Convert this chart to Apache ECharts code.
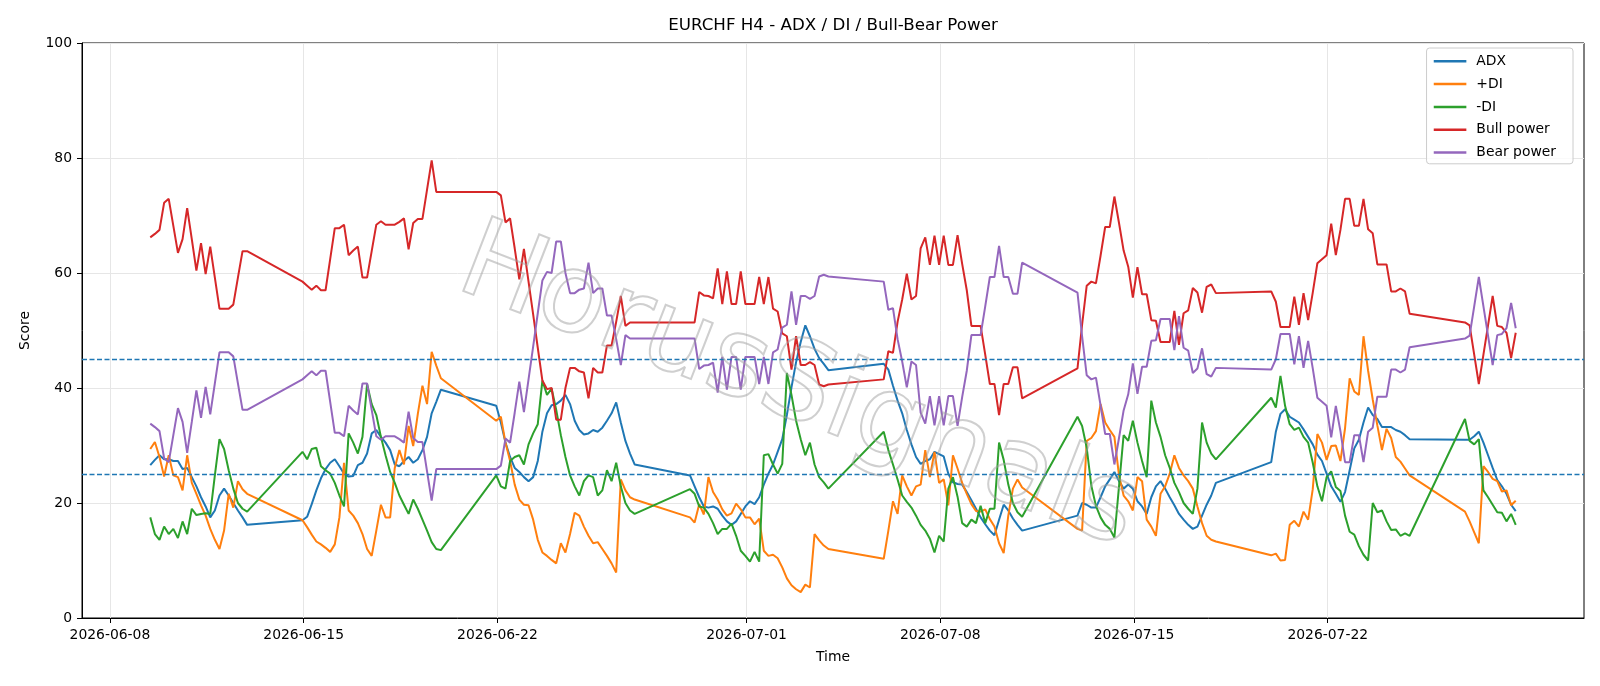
<!DOCTYPE html>
<html>
<head>
<meta charset="utf-8">
<title>EURCHF H4 - ADX / DI / Bull-Bear Power</title>
<script src="https://cdn.jsdelivr.net/npm/echarts@6/dist/echarts.min.js"></script>
<style>
  html, body { margin: 0; padding: 0; background: #fff; }
  #chart-container { width: 1600px; height: 686px; }
</style>
</head>
<body>
<div id="chart-container"></div>
<script>
// H4 sessions: first bar and number of 4h bars until the weekend gap
var sessions = [
  ['2026-06-09T11:00:00Z', 22],
  ['2026-06-14T23:00:00Z', 31],
  ['2026-06-21T23:00:00Z', 31],
  ['2026-06-28T23:00:00Z', 31],
  ['2026-07-05T23:00:00Z', 31],
  ['2026-07-12T23:00:00Z', 31],
  ['2026-07-19T23:00:00Z', 31],
  ['2026-07-26T23:00:00Z', 12]
];
var tickDates = ['2026-06-08', '2026-06-15', '2026-06-22', '2026-07-01', '2026-07-08', '2026-07-15', '2026-07-22'];
var levels = [25, 45];

var adx = [
  26.6, 27.5, 28.3, 27.6, 27.6, 27.3, 27.3, 25.9, 26.1, 24.5, 22.9, 21.0, 19.4, 17.5, 18.7, 21.3, 22.5, 21.3, 20.0, 18.7, 17.5, 16.2,
  17.0, 17.6, 19.8, 22.2, 24.3, 25.9, 27.0, 27.6, 26.4, 25.1, 24.6, 24.7, 26.6, 27.0, 28.6, 32.1, 32.7, 31.5, 30.5, 29.2, 26.7, 26.4, 27.3, 28.0, 27.0, 27.6, 29.2, 31.5, 35.6, 37.6, 39.7,
  36.9, 34.0, 30.5, 28.0, 26.1, 25.4, 24.5, 23.8, 24.5, 27.3, 32.4, 35.6, 37.0, 37.2, 37.8, 38.8, 37.2, 34.3, 32.7, 31.9, 32.1, 32.7, 32.4, 33.1, 34.3, 35.6, 37.5, 34.0, 30.8, 28.6, 26.7,
  24.8, 22.9, 21.0, 19.4, 19.2, 19.4, 19.0, 17.8, 16.8, 16.2, 16.8, 18.1, 19.4, 20.3, 19.8, 21.0, 23.2, 25.1, 26.7, 28.9, 31.1, 35.3, 40.1, 44.5, 48.0, 50.9, 49.0, 46.8, 45.2, 44.2, 43.1,
  44.2, 43.2, 40.4, 37.8, 35.6, 32.7, 30.2, 28.0, 26.8, 27.3, 27.6, 28.9, 28.5, 28.1, 25.1, 23.6, 23.3, 23.2, 21.9, 20.5, 19.0, 17.5, 16.3, 15.2, 14.4, 17.1, 19.7, 18.7, 17.3, 16.2, 15.2,
  17.8, 20.0, 19.7, 19.2, 19.2, 21.0, 22.9, 24.1, 25.4, 23.8, 22.5, 23.2, 22.5, 20.3, 19.4, 18.1, 21.0, 22.9, 23.8, 22.5, 21.0, 19.6, 18.1, 17.1, 16.2, 15.5, 15.9, 17.8, 19.7, 21.3, 23.5,
  27.1, 32.4, 35.5, 36.3, 35.0, 34.5, 34.0, 32.8, 31.5, 30.2, 28.4, 27.3, 25.1, 22.9, 21.6, 20.2, 21.9, 25.7, 29.5, 31.0, 34.0, 36.6, 35.3, 34.6, 33.2, 33.2, 33.2, 32.7, 32.4, 31.8, 31.1,
  31.0, 31.0, 31.6, 32.4, 30.5, 28.3, 26.1, 24.0, 22.9, 21.6, 19.7, 18.6
];
var plusDi = [
  29.4, 30.6, 28.0, 24.6, 28.3, 24.8, 24.5, 22.2, 28.3, 23.5, 21.6, 19.6, 17.8, 15.5, 13.6, 12.0, 15.2, 21.6, 19.2, 23.8, 22.4, 21.6,
  17.0, 15.8, 14.5, 13.3, 12.8, 12.2, 11.5, 12.8, 17.5, 27.0, 18.7, 17.8, 16.5, 14.6, 12.0, 10.8, 15.2, 19.7, 17.5, 17.5, 26.1, 29.2, 26.7, 33.4, 29.9, 35.5, 40.4, 37.2, 46.3, 43.9, 41.7,
  34.3, 35.0, 30.5, 27.3, 23.2, 20.6, 19.7, 19.6, 17.1, 13.6, 11.4, 10.8, 10.1, 9.5, 13.0, 11.4, 14.6, 18.3, 17.8, 15.9, 14.3, 13.0, 13.2, 12.0, 10.8, 9.5, 7.9, 24.1, 22.2, 21.0, 20.6,
  17.5, 16.6, 19.8, 18.0, 24.5, 21.9, 20.6, 18.9, 17.8, 18.2, 19.9, 18.9, 17.5, 17.5, 16.3, 17.3, 11.7, 10.8, 11.0, 10.4, 8.8, 6.9, 5.7, 5.0, 4.5, 5.8, 5.3, 14.6, 13.5, 12.6, 12.0,
  10.3, 15.2, 20.3, 18.1, 24.8, 22.9, 21.3, 22.9, 23.2, 29.2, 24.5, 28.9, 23.5, 24.1, 19.6, 28.3, 26.0, 23.5, 21.6, 19.8, 18.6, 18.5, 18.9, 17.2, 15.9, 13.0, 11.3, 17.8, 22.5, 24.1, 22.7,
  15.5, 15.2, 30.8, 31.3, 32.5, 37.2, 34.0, 32.7, 31.5, 24.8, 21.3, 20.3, 18.7, 24.5, 23.8, 17.1, 15.9, 14.3, 21.6, 22.9, 25.1, 28.3, 26.1, 24.8, 23.8, 22.5, 19.4, 16.5, 14.3, 13.6, 13.3,
  10.9, 11.2, 10.0, 10.1, 16.2, 16.9, 15.9, 18.5, 17.1, 22.4, 32.0, 30.5, 27.5, 29.9, 30.0, 27.3, 33.0, 41.7, 39.4, 38.8, 49.0, 43.0, 38.0, 33.5, 29.2, 32.9, 31.3, 28.0, 27.2, 26.0, 24.8,
  18.5, 16.8, 14.9, 13.0, 26.4, 25.4, 24.2, 23.8, 22.0, 22.2, 19.6, 20.4
];
var minusDi = [
  17.5, 14.6, 13.6, 15.9, 14.6, 15.5, 13.9, 16.8, 14.6, 19.0, 17.9, 18.1, 18.2, 18.1, 24.8, 31.1, 29.4, 25.7, 22.5, 20.0, 19.0, 18.5,
  28.9, 27.6, 29.4, 29.6, 26.4, 25.7, 25.1, 23.5, 21.3, 19.4, 32.1, 30.5, 28.6, 31.5, 40.7, 37.2, 35.3, 31.5, 28.3, 25.4, 23.5, 21.3, 19.7, 18.1, 20.6, 19.0, 17.1, 15.2, 13.2, 12.0, 11.8,
  24.8, 22.9, 22.5, 27.3, 28.0, 28.3, 26.7, 30.2, 32.1, 33.7, 41.3, 38.8, 39.9, 36.2, 31.8, 28.0, 24.8, 22.9, 21.3, 23.8, 24.8, 24.5, 21.3, 22.2, 25.7, 23.8, 27.0, 22.9, 20.0, 18.7, 18.1,
  22.4, 21.6, 19.4, 19.2, 18.1, 16.5, 14.6, 15.5, 15.5, 16.4, 14.3, 11.7, 10.8, 9.8, 11.5, 9.8, 28.3, 28.5, 26.7, 25.1, 26.8, 42.6, 38.8, 34.3, 31.1, 28.3, 30.5, 26.7, 24.5, 23.6, 22.5,
  32.4, 29.2, 26.7, 24.1, 21.3, 20.2, 19.2, 17.8, 16.2, 15.2, 13.8, 11.4, 14.3, 13.3, 22.5, 24.5, 21.1, 16.5, 15.9, 17.1, 16.5, 19.5, 16.5, 19.0, 19.0, 30.5, 27.5, 23.2, 20.0, 18.4, 17.6,
  35.0, 33.4, 29.6, 23.0, 19.5, 17.5, 16.2, 15.5, 14.0, 22.9, 31.8, 30.8, 34.3, 30.5, 27.3, 24.5, 37.8, 34.0, 31.5, 28.3, 26.1, 23.5, 21.9, 20.0, 19.0, 18.1, 22.5, 34.0, 30.5, 28.6, 27.6,
  38.3, 36.6, 42.1, 36.9, 33.7, 32.7, 33.1, 31.5, 30.5, 27.0, 22.9, 20.3, 24.5, 25.5, 22.8, 22.1, 17.8, 15.0, 14.5, 12.5, 11.0, 10.0, 20.0, 18.4, 18.7, 16.8, 15.3, 15.4, 14.3, 14.7, 14.3,
  34.6, 30.8, 30.2, 31.1, 22.2, 21.0, 19.7, 18.4, 18.3, 16.8, 18.1, 16.2
];
var bullPower = [
  66.2, 66.8, 67.5, 72.2, 72.9, 68.2, 63.5, 65.9, 71.3, 65.9, 60.4, 65.2, 59.8, 64.6, 59.2, 53.8, 53.8, 53.8, 54.5, 59.2, 63.8, 63.8,
  58.5, 57.8, 57.1, 57.8, 57.0, 57.0, 62.4, 67.8, 67.8, 68.4, 63.1, 63.9, 64.6, 59.2, 59.2, 63.8, 68.4, 69.0, 68.4, 68.4, 68.4, 68.9, 69.5, 64.1, 68.7, 69.4, 69.4, 74.5, 79.6, 74.1, 74.1,
  74.1, 73.5, 68.8, 69.5, 64.3, 58.9, 64.2, 58.5, 52.8, 47.0, 41.3, 39.8, 40.0, 34.5, 34.5, 40.0, 43.5, 43.5, 42.9, 42.7, 38.2, 43.5, 42.7, 42.7, 47.4, 47.4, 51.5, 56.0, 50.8, 51.4, 51.4,
  51.4, 51.4, 56.7, 56.1, 56.0, 55.6, 60.8, 54.6, 60.3, 54.6, 54.6, 60.3, 54.6, 54.6, 54.6, 59.3, 54.6, 59.3, 53.8, 53.3, 49.5, 49.0, 43.2, 49.0, 44.0, 44.0, 44.5, 44.0, 40.6, 40.3, 40.6,
  41.5, 46.4, 46.1, 51.5, 55.4, 59.9, 55.4, 56.0, 64.3, 66.2, 61.4, 66.5, 61.4, 66.5, 61.4, 61.4, 66.6, 61.6, 57.0, 50.8, 50.8, 50.8, 45.8, 40.7, 40.7, 35.3, 40.7, 40.7, 43.6, 43.6, 38.2,
  43.4, 51.0, 57.8, 58.5, 58.2, 63.0, 68.0, 68.0, 73.3, 68.7, 63.9, 61.1, 55.7, 61.0, 56.3, 56.3, 51.8, 51.7, 48.0, 48.0, 48.0, 53.4, 47.5, 53.0, 53.5, 57.4, 56.6, 53.1, 57.6, 58.0, 56.5,
  56.8, 55.0, 50.6, 50.6, 50.6, 55.9, 51.0, 56.5, 51.8, 56.6, 61.7, 62.4, 63.1, 68.6, 63.1, 67.5, 72.9, 72.9, 68.2, 68.2, 72.9, 67.6, 66.9, 61.5, 61.5, 61.5, 56.8, 56.8, 57.3, 56.8, 52.9,
  51.4, 50.9, 45.8, 40.7, 45.8, 50.9, 56.0, 50.8, 50.6, 49.6, 45.2, 49.6
];
var bearPower = [
  33.8, 33.2, 32.5, 27.8, 27.1, 31.8, 36.5, 34.1, 28.7, 34.1, 39.6, 34.8, 40.2, 35.4, 40.8, 46.2, 46.2, 46.2, 45.5, 40.8, 36.2, 36.2,
  41.5, 42.2, 42.9, 42.2, 43.0, 43.0, 37.6, 32.2, 32.2, 31.6, 36.9, 36.1, 35.4, 40.8, 40.8, 36.2, 31.6, 31.0, 31.6, 31.6, 31.6, 31.1, 30.5, 35.9, 31.3, 30.6, 30.6, 25.5, 20.4, 25.9, 25.9,
  25.9, 26.5, 31.2, 30.5, 35.7, 41.1, 35.8, 41.5, 47.2, 53.0, 58.7, 60.2, 60.0, 65.5, 65.5, 60.0, 56.5, 56.5, 57.1, 57.3, 61.8, 56.5, 57.3, 57.3, 52.6, 52.6, 48.5, 44.0, 49.2, 48.6, 48.6,
  48.6, 48.6, 43.3, 43.9, 44.0, 44.4, 39.2, 45.4, 39.7, 45.4, 45.4, 39.7, 45.4, 45.4, 45.4, 40.7, 45.4, 40.7, 46.2, 46.7, 50.5, 51.0, 56.8, 51.0, 56.0, 56.0, 55.5, 56.0, 59.4, 59.7, 59.4,
  58.5, 53.6, 53.9, 48.5, 44.6, 40.1, 44.6, 44.0, 35.7, 33.8, 38.6, 33.5, 38.6, 33.5, 38.6, 38.6, 33.4, 38.4, 43.0, 49.2, 49.2, 49.2, 54.2, 59.3, 59.3, 64.7, 59.3, 59.3, 56.4, 56.4, 61.8,
  56.6, 49.0, 42.2, 41.5, 41.8, 37.0, 32.0, 32.0, 26.7, 31.3, 36.1, 38.9, 44.3, 39.0, 43.7, 43.7, 48.2, 48.3, 52.0, 52.0, 52.0, 46.6, 52.5, 47.0, 46.5, 42.6, 43.4, 46.9, 42.4, 42.0, 43.5,
  43.2, 45.0, 49.4, 49.4, 49.4, 44.1, 49.0, 43.5, 48.2, 43.4, 38.3, 37.6, 36.9, 31.4, 36.9, 32.5, 27.1, 27.1, 31.8, 31.8, 27.1, 32.4, 33.1, 38.5, 38.5, 38.5, 43.2, 43.2, 42.7, 43.2, 47.1,
  48.6, 49.1, 54.2, 59.3, 54.2, 49.1, 44.0, 49.2, 49.4, 50.4, 54.8, 50.4
];

var times = [];
sessions.forEach(function (s) {
  var t0 = Date.parse(s[0]);
  for (var i = 0; i < s[1]; i++) {
    times.push(t0 + i * 4 * 3600 * 1000);
  }
});
var span = times[times.length - 1] - times[0];
var xMin = times[0] - span * 0.05;
var xMax = times[times.length - 1] + span * 0.05;
var ticks = tickDates.map(function (d) { return Date.parse(d + 'T00:00:00Z'); });

function pad(n) { return n < 10 ? '0' + n : '' + n; }
function fmtDate(v) {
  var d = new Date(v);
  return d.getUTCFullYear() + '-' + pad(d.getUTCMonth() + 1) + '-' + pad(d.getUTCDate());
}
function pairs(vals) {
  return vals.map(function (v, i) { return [times[i], v]; });
}

var font = 'DejaVu Sans';
var dom = document.getElementById('chart-container');
var myChart = echarts.init(dom, null, { renderer: 'canvas' });

function lineSeries(name, color, vals) {
  return {
    name: name,
    type: 'line',
    data: pairs(vals),
    showSymbol: false,
    symbol: 'none',
    color: color,
    lineStyle: { color: color, width: 2 },
    animation: false
  };
}

var series = [
  lineSeries('ADX', '#1f77b4', adx),
  lineSeries('+DI', '#ff7f0e', plusDi),
  lineSeries('-DI', '#2ca02c', minusDi),
  lineSeries('Bull power', '#d62728', bullPower),
  lineSeries('Bear power', '#9467bd', bearPower)
];
series[4].markLine = {
  silent: true,
  symbol: ['none', 'none'],
  label: { show: false },
  lineStyle: { color: '#1f77b4', type: [5, 2.5], width: 1.3 },
  data: levels.map(function (v) { return { yAxis: v }; }),
  animation: false
};

var option = {
  backgroundColor: '#fff',
  animation: false,
  textStyle: { fontFamily: font },
  grid: {
    left: 82, right: 16, top: 43, bottom: 68,
    show: true, borderColor: '#000', borderWidth: 1,
    containLabel: false, outerBoundsMode: 'none'
  },
  graphic: [
    {
      type: 'text', x: 833, y: 26, silent: true,
      style: {
        text: 'EURCHF H4 - ADX / DI / Bull-Bear Power',
        fontSize: 16.7, fontFamily: font, fill: '#000',
        textAlign: 'center', textVerticalAlign: 'middle'
      }
    },
    {
      type: 'text', x: 798, y: 390, rotation: -0.37, silent: true, z: 100,
      style: {
        text: 'HorusSignals',
        fontSize: 110, fontFamily: font,
        fill: 'none', stroke: 'rgba(160,160,160,0.5)', lineWidth: 2,
        textAlign: 'center', textVerticalAlign: 'middle'
      }
    }
  ],
  legend: {
    data: ['ADX', '+DI', '-DI', 'Bull power', 'Bear power'],
    orient: 'vertical',
    right: 27, top: 48,
    icon: 'rect',
    itemWidth: 32.6, itemHeight: 2.5, itemGap: 8.8,
    padding: [6.3, 17, 4.3, 7.2],
    backgroundColor: 'rgba(255,255,255,0.8)',
    borderColor: '#cccccc', borderWidth: 1, borderRadius: 3,
    textStyle: { fontSize: 13.9, color: '#000', fontFamily: font, padding: [0, 0, 0, 5] }
  },
  xAxis: {
    type: 'value',
    min: xMin, max: xMax,
    name: 'Time', nameLocation: 'middle', nameGap: 32,
    nameTextStyle: { fontSize: 13.9, color: '#000', fontFamily: font },
    axisLine: { show: true, lineStyle: { color: '#000', width: 1 } },
    axisTick: { show: true, length: 5, customValues: ticks, lineStyle: { color: '#000' } },
    axisLabel: { customValues: ticks, formatter: fmtDate, fontSize: 13.9, color: '#000', margin: 10, fontFamily: font },
    splitLine: { show: true, lineStyle: { color: '#e6e6e6', width: 1 } }
  },
  yAxis: {
    type: 'value',
    min: 0, max: 100, interval: 20,
    name: 'Score', nameLocation: 'middle', nameGap: 50,
    nameTextStyle: { fontSize: 13.9, color: '#000', fontFamily: font },
    axisLine: { show: true, lineStyle: { color: '#000', width: 1 } },
    axisTick: { show: true, length: 5, lineStyle: { color: '#000' } },
    axisLabel: { fontSize: 13.9, color: '#000', margin: 10, fontFamily: font },
    splitLine: { show: true, lineStyle: { color: '#e6e6e6', width: 1 } }
  },
  series: series
};

myChart.setOption(option);
window.addEventListener('resize', myChart.resize);
</script>
</body>
</html>
